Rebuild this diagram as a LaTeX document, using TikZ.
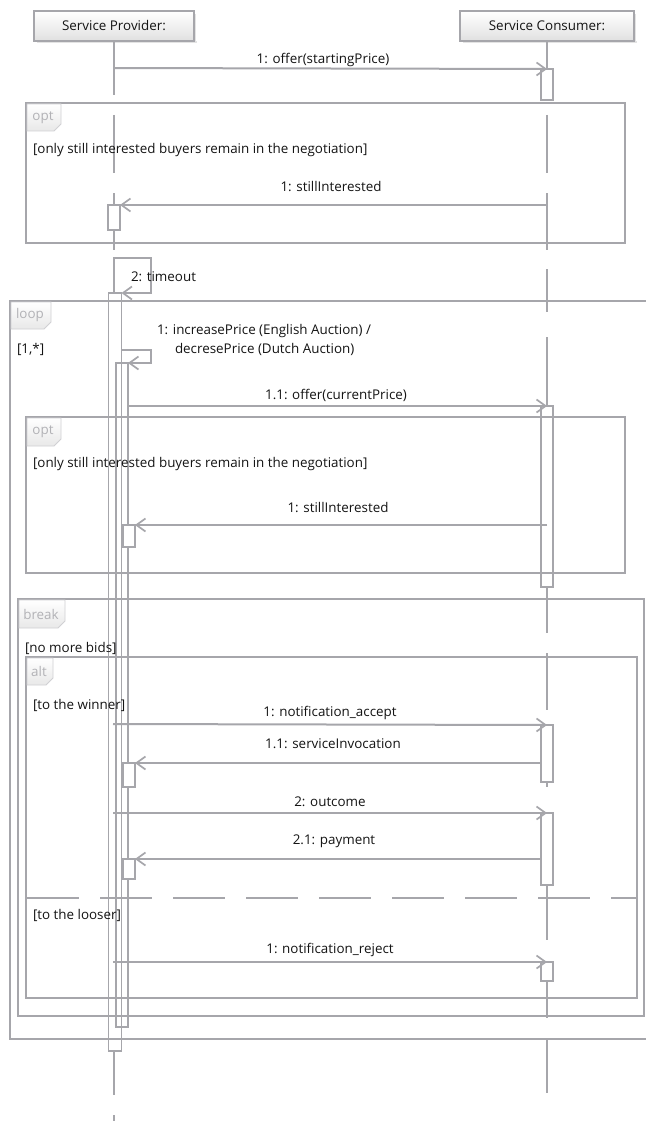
\documentclass[tikz,border=0pt]{standalone}
\usepackage{fontspec}
\setmainfont{Open Sans}
\usetikzlibrary{arrows.meta,calc}
\definecolor{ln}{RGB}{166,166,171}
\definecolor{tagtxt}{RGB}{178,178,182}
\definecolor{tagline}{RGB}{208,208,211}
\definecolor{txt}{RGB}{20,20,20}
\newcommand\frametag[6]{% name, x, y, w, h, text
  \path[tagshape] (#2,#3) -- ++(#4,0) -- ++(0,#5-7) -- ++(-7,7) -- ++(-#4+7,0) -- cycle;
  \node[tagtext] (#1) at (#2+#4/2-1,#3+#5/2) {#6};}
\begin{document}
\begin{tikzpicture}[x=1pt,y=-1pt,
  every node/.style={font=\fontsize{13.4}{15}\selectfont, text=txt, inner sep=0pt, outer sep=0pt},
  lifeline/.style={draw=ln, line width=2pt},
  msg/.style={draw=ln, line width=2pt, -{Straight Barb[length=9pt,width=13pt,line width=1.7pt]}},
  act/.style={draw=ln, line width=1.9pt, minimum width=12pt, anchor=north, rectangle},
  fr/.style={draw=ln, line width=2pt},
  head/.style={draw=ln, line width=1.4pt, top color=white, bottom color=gray!24, minimum height=30pt, rectangle},
  tagshape/.style={draw=tagline, line width=0.9pt, top color=white, bottom color=gray!18},
  tagtext/.style={text=tagtxt},
  lbl/.style={anchor=center},
  guard/.style={anchor=west}]
\useasboundingbox (0,0) rectangle (645,1121);
\fill[white] (0,0) rectangle (645,1121);

% lifeline heads
\fill[gray!22] (37,41) rectangle (197,43);
\fill[gray!22] (194,14) rectangle (196,43);
\fill[gray!22] (463,41) rectangle (637,43);
\fill[gray!22] (634,14) rectangle (636,43);
\node[head, minimum width=160pt] (sp) at (114,26) {Service Provider:};
\node[head, minimum width=174pt] (sc) at (547,26) {Service Consumer:};

% lifelines
\foreach \a/\b in {41/95,115/173,193/205,230/250,257/293,1051/1095,1115/1121}
  \draw[lifeline] (114,\a) -- (114,\b);
\foreach \a/\b in {41/69,115/173,193/250,269/312,337/406,587/633,653/710,782/787,885/940,981/1018,1038/1093}
  \draw[lifeline] (547,\a) -- (547,\b);

% activations
\node[act, fill=white, minimum height=31pt] (ca1) at (547,69) {};
\node[act, fill=white, minimum height=25pt] (pa1) at (114,205) {};
\node[act, minimum width=13pt, minimum height=758pt] (pb) at (115,293) {};
\node[act, minimum height=664pt] (pi) at (122,363) {};
\node[act, fill=white, minimum height=181pt] (ca2) at (547,406) {};
\node[act, fill=white, minimum height=22pt] (ps1) at (129,525) {};
\node[act, fill=white, minimum height=57pt] (ca3) at (547,725) {};
\node[act, fill=white, minimum height=24pt] (ps2) at (129,763) {};
\node[act, fill=white, minimum height=72pt] (ca4) at (547,813) {};
\node[act, fill=white, minimum height=20pt] (ps3) at (129,859) {};
\node[act, fill=white, minimum height=19pt] (ca5) at (547,962) {};

% combined fragments
\draw[fr] (26,103) rectangle (625,243);
\draw[fr] (650,301) -- (10,301) -- (10,1039) -- (650,1039);
\draw[fr] (26,417) rectangle (625,573);
\draw[fr] (18,599) rectangle (644,1016);
\draw[fr] (26,657) rectangle (637,998);
\draw[fr, dash pattern=on 52pt off 21pt] (27,898) -- (636,898);

\frametag{t1}{27}{104}{34}{27}{opt}
\frametag{t2}{11}{302}{40}{27}{loop}
\frametag{t3}{27}{418}{34}{28}{opt}
\frametag{t4}{19}{600}{46}{28}{break}
\frametag{t5}{27}{658}{26}{27}{alt}

% guards
\node[guard] (g1) at (33,150) {[only still interested buyers remain in the negotiation]};
\node[guard] (g2) at (17,349) {[1,*]};
\node[guard] (g3) at (33,464) {[only still interested buyers remain in the negotiation]};
\node[guard] (g4) at (25,648) {[no more bids]};
\node[guard] (g5) at (33,705) {[to the winner]};
\node[guard] (g6) at (33,915) {[to the looser]};

% messages
\coordinate (s1) at (114,68);
\draw[msg] (s1) -- (ca1.north);
\node[lbl] (l1) at (323,60) {1: offer(startingPrice)};

\coordinate (s2) at (547,205);
\draw[msg] (s2) -- (pa1.north east);
\node[lbl] (l2) at (331,187) {1: stillInterested};

\coordinate (s3) at (114,258);
\draw[msg] (s3) -- (151,258) -- (151,293) -- (pb.north east);
\node[guard] (l3) at (131,277) {2: timeout};

\coordinate (s4) at (121.5,350);
\draw[msg] (s4) -- (151,350) -- (151,363) -- (pi.north east);
\node[guard] (l4a) at (157,331) {1: increasePrice (English Auction) /};
\node[guard] (l4b) at (175,349) {decresePrice (Dutch Auction)};

\coordinate (s5) at (128,406);
\draw[msg] (s5) -- (ca2.north);
\node[lbl] (l5) at (336,395) {1.1: offer(currentPrice)};

\coordinate (s6) at (547,525);
\draw[msg] (s6) -- (ps1.north east);
\node[lbl] (l6) at (338,507) {1: stillInterested};

\coordinate (s7) at (113,724);
\draw[msg] (s7) -- (ca3.north);
\node[lbl] (l7) at (330,713) {1: notification\_accept};

\coordinate (s8) at (541,763);
\draw[msg] (s8) -- (ps2.north east);
\node[lbl] (l8) at (333,744) {1.1: serviceInvocation};

\coordinate (s9) at (113,813);
\draw[msg] (s9) -- (ca4.north);
\node[lbl] (l9) at (330,802) {2: outcome};

\coordinate (s10) at (541,859);
\draw[msg] (s10) -- (ps3.north east);
\node[lbl] (l10) at (334,841) {2.1: payment};

\coordinate (s11) at (113,962);
\draw[msg] (s11) -- (ca5.north);
\node[lbl] (l11) at (330,950) {1: notification\_reject};
\end{tikzpicture}
\end{document}
